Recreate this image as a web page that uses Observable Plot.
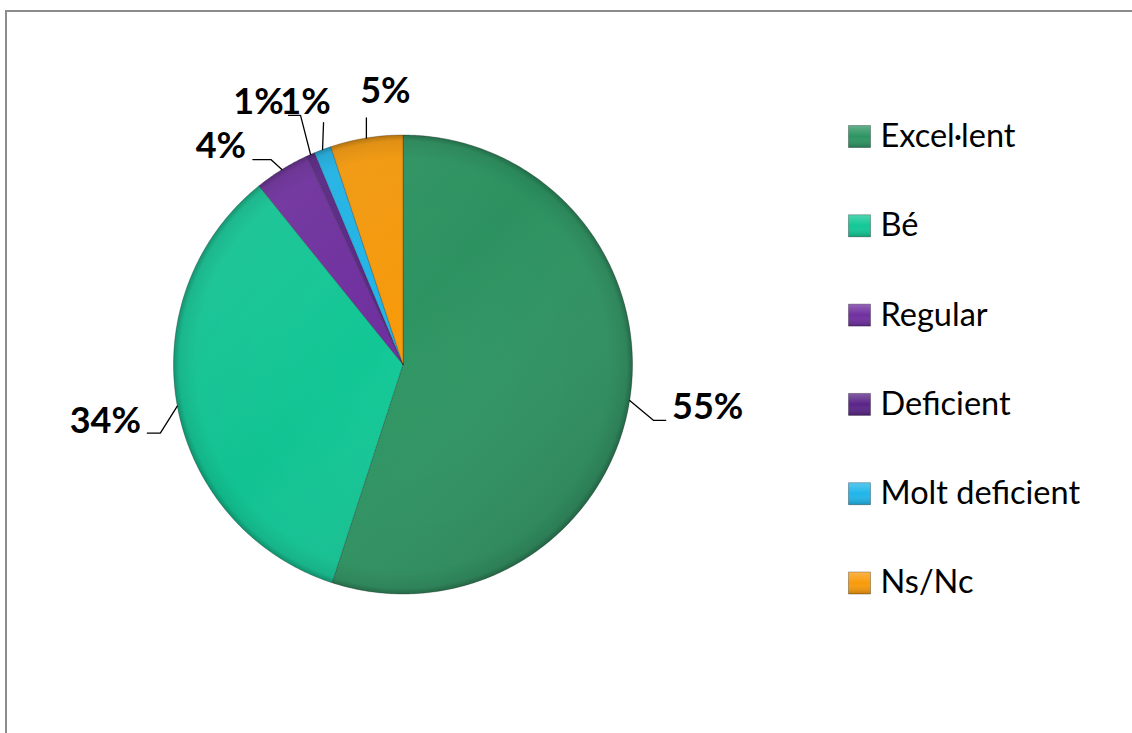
<!DOCTYPE html>
<html><head><meta charset="utf-8">
<script src="https://cdn.jsdelivr.net/npm/d3@7"></script>
<script src="https://cdn.jsdelivr.net/npm/@observablehq/plot@0.6"></script>
<style>
html,body{margin:0;padding:0;background:#fff;overflow:hidden;}
#wrap{position:relative;width:1132px;height:733px;overflow:hidden;}
#border{position:absolute;left:5px;top:10px;width:2000px;height:2000px;border-top:2px solid #8c8c8c;border-left:2px solid #8c8c8c;pointer-events:none;}
#chart svg{display:block;}
</style></head><body>
<div id="wrap"><div id="chart"></div><div id="border"></div></div>
<script>
// ---- data ----
const categories = ["Excel·lent", "Bé", "Regular", "Deficient", "Molt deficient", "Ns/Nc"];
const values = [55.0, 34.2, 3.9, 0.6, 1.2, 5.1];
const colors = ["#2d9562", "#12c896", "#7030a0", "#5a2588", "#20b6ea", "#f89b0b"];

// ---- layout (pixels) ----
const W = 1132, H = 733;
const cx = 402.5, cy = 364, R = 229.5;
// label layout relative to the slice's mid-angle edge point: [dx, dy] in px
const elbowOff = [[24, 20], [-17, 27], [-11, -10], [-10, -39], [1, -27], [0, -20]];
const endOff   = [[36, 20], [-30, 27], [-29, -10], [-22, -39], [1, -27], [0, -20]];
const textOff  = [[78, 7], [-72, 15], [-61, -23], [-52, -52], [-17, -47], [19, -46]];
const legendTop = 136, legendStep = 89.3, legendSwatchX = 859, legendTextX = 880;

const dxu = px => px / R;      // px offset -> data units (x)
const dyu = py => -py / R;     // px offset -> data units (y, up)

const total = d3.sum(values);
const fmt = d3.format(".0%");

const slicePts = [];
const labels = [];
const leaders = [];
let cum = 0;
categories.forEach((name, i) => {
  const a0 = cum / total * 2 * Math.PI;
  cum += values[i];
  const a1 = cum / total * 2 * Math.PI;
  const n = Math.max(2, Math.ceil((a1 - a0) / (Math.PI / 360)));
  slicePts.push({name, x: 0, y: 0});
  for (let k = 0; k <= n; k++) {
    const a = a0 + (a1 - a0) * k / n;
    slicePts.push({name, x: Math.sin(a), y: Math.cos(a)});
  }
  slicePts.push({name, x: 0, y: 0});
  const m = (a0 + a1) / 2;
  const ex = Math.sin(m), ey = Math.cos(m);
  leaders.push({name, x: ex, y: ey});
  leaders.push({name, x: ex + dxu(elbowOff[i][0]), y: ey + dyu(elbowOff[i][1])});
  leaders.push({name, x: ex + dxu(endOff[i][0]), y: ey + dyu(endOff[i][1])});
  labels.push({name, text: fmt(values[i] / total), x: ex + dxu(textOff[i][0]), y: ey + dyu(textOff[i][1])});
});

const legend = categories.map((name, i) => ({
  name,
  x: (legendSwatchX - cx) / R,
  tx: (legendTextX - cx) / R,
  y: (cy - (legendTop + i * legendStep)) / R
}));

const svg = Plot.plot({
  width: W, height: H,
  margin: 0,
  style: {fontFamily: "Lato, 'Open Sans', sans-serif", background: "transparent", overflow: "visible"},
  x: {domain: [-1, 1], range: [cx - R, cx + R], axis: null},
  y: {domain: [-1, 1], range: [cy + R, cy - R], axis: null},
  color: {domain: categories, range: colors},
  marks: [
    Plot.line(slicePts, {x: "x", y: "y", z: "name", fill: "name", stroke: "#1a1a1a", strokeOpacity: 0.28, strokeWidth: 1, strokeLinejoin: "round"}),
    Plot.dot([{x: 0, y: 0}], {x: "x", y: "y", r: R, fill: "url(#pieLight)", stroke: null}),
    Plot.dot([{x: 0, y: 0}], {x: "x", y: "y", r: R, fill: "url(#pieRim)", stroke: null}),
    Plot.line(leaders, {x: "x", y: "y", z: "name", stroke: "#000", strokeWidth: 1.3, curve: "linear"}),
    Plot.text(labels, {x: "x", y: "y", text: "text", fontSize: 36, fontWeight: "bold", fill: "#000", textAnchor: "middle", lineAnchor: "middle"}),
    Plot.dot(legend, {x: "x", y: "y", symbol: "square", r: 12.4, fill: "name", stroke: "#000", strokeOpacity: 0.3, strokeWidth: 1}),
    Plot.dot(legend, {x: "x", y: "y", symbol: "square", r: 12.4, fill: "url(#swatchShade)", stroke: null}),
    Plot.text(legend, {x: "tx", y: "y", text: "name", fontSize: 32.5, fill: "#000", textAnchor: "start", lineAnchor: "middle"})
  ]
});

const defs = d3.select(svg).insert("defs", ":first-child");
const lin = defs.append("linearGradient").attr("id", "pieLight")
  .attr("x1", "0").attr("y1", "0").attr("x2", "1").attr("y2", "1");
lin.append("stop").attr("offset", "0").attr("stop-color", "#fff").attr("stop-opacity", 0.10);
lin.append("stop").attr("offset", "0.45").attr("stop-color", "#fff").attr("stop-opacity", 0);
lin.append("stop").attr("offset", "1").attr("stop-color", "#000").attr("stop-opacity", 0.18);
const rad = defs.append("radialGradient").attr("id", "pieRim")
  .attr("cx", "0.5").attr("cy", "0.5").attr("r", "0.5");
rad.append("stop").attr("offset", "0").attr("stop-color", "#000").attr("stop-opacity", 0);
rad.append("stop").attr("offset", "0.9").attr("stop-color", "#000").attr("stop-opacity", 0.03);
rad.append("stop").attr("offset", "0.975").attr("stop-color", "#000").attr("stop-opacity", 0.10);
rad.append("stop").attr("offset", "1").attr("stop-color", "#000").attr("stop-opacity", 0.28);
const sw = defs.append("linearGradient").attr("id", "swatchShade")
  .attr("x1", "0").attr("y1", "0").attr("x2", "0").attr("y2", "1");
sw.append("stop").attr("offset", "0").attr("stop-color", "#fff").attr("stop-opacity", 0.25);
sw.append("stop").attr("offset", "0.5").attr("stop-color", "#fff").attr("stop-opacity", 0);
sw.append("stop").attr("offset", "1").attr("stop-color", "#000").attr("stop-opacity", 0.2);

document.getElementById("chart").appendChild(svg);
</script>
</body></html>
